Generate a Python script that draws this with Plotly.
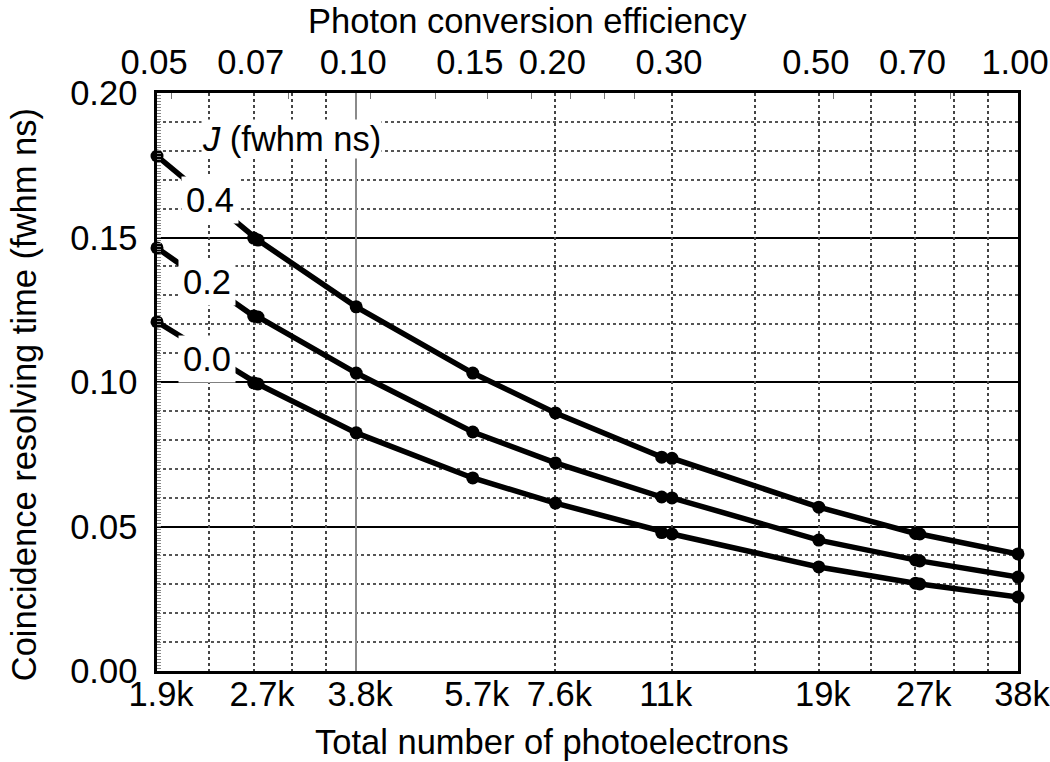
import math
import plotly.graph_objects as go

# ---------------- data ----------------
photoelectrons = [1900, 2660, 2700, 3800, 5700, 7600, 11000, 11400, 19000, 26600, 27000, 38000]
crt_j04 = [0.1782, 0.1498, 0.1491, 0.1260, 0.1031, 0.0893, 0.0740, 0.0736, 0.0567, 0.0476, 0.0474, 0.0405]
crt_j02 = [0.1464, 0.1228, 0.1225, 0.1031, 0.0827, 0.0720, 0.0602, 0.0599, 0.0453, 0.0384, 0.0381, 0.0325]
crt_j00 = [0.1208, 0.0997, 0.0993, 0.0824, 0.0668, 0.0581, 0.0479, 0.0474, 0.0360, 0.0304, 0.0301, 0.0256]
series = [("0.4", crt_j04), ("0.2", crt_j02), ("0.0", crt_j00)]

top_tick_vals = [0.05, 0.07, 0.10, 0.15, 0.20, 0.30, 0.50, 0.70, 1.00]
top_tick_text = ["0.05", "0.07", "0.10", "0.15", "0.20", "0.30", "0.50", "0.70", "1.00"]
bottom_tick_vals = [1900, 2700, 3800, 5700, 7600, 11000, 19000, 27000, 38000]
bottom_tick_text = ["1.9k", "2.7k", "3.8k", "5.7k", "7.6k", "11k", "19k", "27k", "38k"]
y_tick_vals = [0.00, 0.05, 0.10, 0.15, 0.20]
y_tick_text = ["0.00", "0.05", "0.10", "0.15", "0.20"]
eff_dotted_grid = [0.06, 0.07, 0.08, 0.09, 0.2, 0.3, 0.4, 0.5, 0.6, 0.7, 0.8, 0.9]
eff_solid_grid = [0.10]
n_top_ticks = [2000, 3000, 4000, 5000, 6000, 7000, 8000, 9000, 10000, 20000, 30000]

# label anchors (efficiency, resolving time)
curve_label_eff = [0.0602, 0.0595, 0.0596]
curve_label_y = [0.1630, 0.1346, 0.1080]
legend_title_eff = 0.0797
legend_title_y = 0.1840

eff_range = [0.05, 1.00]
n_range = [1900, 38000]
y_range = [0.0, 0.2]

FONT = "Liberation Sans, Arial, Helvetica, sans-serif"
FS = 34.5

fig = go.Figure()

# invisible anchor traces for the overlay axes
for xa in ["x2", "x3", "x4", "x5"]:
    xv = eff_range[0] if xa in ("x2", "x3", "x4") else n_range[0]
    fig.add_trace(go.Scatter(x=[xv], y=[y_range[0]], xaxis=xa, yaxis="y", mode="markers",
                             marker=dict(opacity=0), hoverinfo="skip", showlegend=False))
fig.add_trace(go.Scatter(x=[n_range[0]], y=[y_range[0]], xaxis="x", yaxis="y2", mode="markers",
                         marker=dict(opacity=0), hoverinfo="skip", showlegend=False))

for name, vals in series:
    fig.add_trace(go.Scatter(
        x=photoelectrons, y=vals, mode="lines+markers", name=name,
        line=dict(color="black", width=5.5),
        marker=dict(color="black", size=13),
        cliponaxis=False, showlegend=False,
    ))

log = math.log10

fig.update_layout(
    width=1050, height=762,
    margin=dict(l=157, r=32, t=93, b=91, autoexpand=False),
    paper_bgcolor="white", plot_bgcolor="white",
    font=dict(family=FONT, size=FS, color="black"),
    xaxis=dict(
        type="log", range=[log(n_range[0]), log(n_range[1])], automargin=False,
        tickmode="array", tickvals=bottom_tick_vals, ticktext=bottom_tick_text,
        ticks="", showgrid=False, zeroline=False,
        showline=True, linecolor="black", linewidth=2.5, mirror=True,
        tickfont=dict(size=FS), ticklabelshift=4, ticklabelstandoff=-9,
        ticklabeloverflow="allow",
    ),
    xaxis2=dict(
        type="log", range=[log(eff_range[0]), log(eff_range[1])], automargin=False,
        overlaying="x", side="top", anchor="y",
        tickmode="array", tickvals=top_tick_vals, ticktext=top_tick_text,
        ticks="", showgrid=False, zeroline=False, showline=False,
        tickfont=dict(size=FS), ticklabelstandoff=11, ticklabelshift=-3,
        ticklabeloverflow="allow",
    ),
    xaxis3=dict(
        type="log", range=[log(eff_range[0]), log(eff_range[1])], automargin=False,
        overlaying="x", anchor="y", showticklabels=False, ticks="",
        tickmode="array", tickvals=eff_dotted_grid,
        showgrid=True, gridcolor="#444444", griddash="dot", gridwidth=1.6,
        zeroline=False, showline=False,
    ),
    xaxis4=dict(
        type="log", range=[log(eff_range[0]), log(eff_range[1])], automargin=False,
        overlaying="x", anchor="y", showticklabels=False, ticks="",
        tickmode="array", tickvals=eff_solid_grid,
        showgrid=True, gridcolor="#8a8a8a", gridwidth=2,
        zeroline=False, showline=False,
    ),
    xaxis5=dict(
        type="log", range=[log(n_range[0]), log(n_range[1])], automargin=False,
        overlaying="x", side="top", anchor="y", showticklabels=False,
        tickmode="array", tickvals=n_top_ticks,
        ticks="inside", ticklen=6, tickwidth=1.2, tickcolor="#777777",
        showgrid=False, zeroline=False, showline=False,
    ),
    yaxis=dict(
        range=y_range, tickmode="array", tickvals=y_tick_vals, ticktext=y_tick_text,
        automargin=False,
        ticks="", showgrid=True, gridcolor="black", gridwidth=2,
        zeroline=False, showline=True, linecolor="black", linewidth=2.5, mirror=True,
        minor=dict(dtick=0.01, showgrid=True, gridcolor="#555555", griddash="dot", gridwidth=1.6),
        tickfont=dict(size=FS), ticklabelstandoff=10,
    ),
    yaxis2=dict(
        range=y_range, overlaying="y", side="left", anchor="x", automargin=False,
        showticklabels=False, tickmode="linear", tick0=0, dtick=0.001,
        ticks="inside", ticklen=4, tickwidth=1, tickcolor="#888888",
        showgrid=False, zeroline=False, showline=False,
    ),
)

annotations = []
for (name, _), ex, ey in zip(series, curve_label_eff, curve_label_y):
    annotations.append(dict(
        x=log(ex), y=ey, xref="x2", yref="y", text=name, showarrow=False,
        font=dict(size=FS, family=FONT, color="black"),
        bgcolor="white", borderpad=4, xanchor="center", yanchor="middle",
    ))
annotations.append(dict(
    x=log(legend_title_eff), y=legend_title_y, xref="x2", yref="y",
    text="<i>J</i> (fwhm ns)", showarrow=False,
    font=dict(size=FS, family=FONT, color="black"),
    bgcolor="white", borderpad=0, xanchor="center", yanchor="middle",
))
annotations.append(dict(
    x=0.43, y=1.160, xref="paper", yref="paper", text="Photon conversion efficiency",
    showarrow=False, font=dict(size=FS, family=FONT), xanchor="center", yanchor="top",
    borderpad=0,
))
annotations.append(dict(
    x=0.459, y=-0.1574, xref="paper", yref="paper", text="Total number of photoelectrons",
    showarrow=False, font=dict(size=FS, family=FONT), xanchor="center", yanchor="bottom",
    borderpad=0,
))
annotations.append(dict(
    x=-0.155, y=0.478, xref="paper", yref="paper", text="Coincidence resolving time (fwhm ns)",
    showarrow=False, textangle=-90, font=dict(size=FS, family=FONT),
    xanchor="center", yanchor="middle",
))
fig.update_layout(annotations=annotations)

fig.write_html(
    "out.html",
    config={"displayModeBar": False},
    post_script="document.body.style.margin='0';document.body.style.overflow='hidden';"
                "document.querySelectorAll('.main-svg').forEach(function(s){s.style.overflow='hidden';});",
)
